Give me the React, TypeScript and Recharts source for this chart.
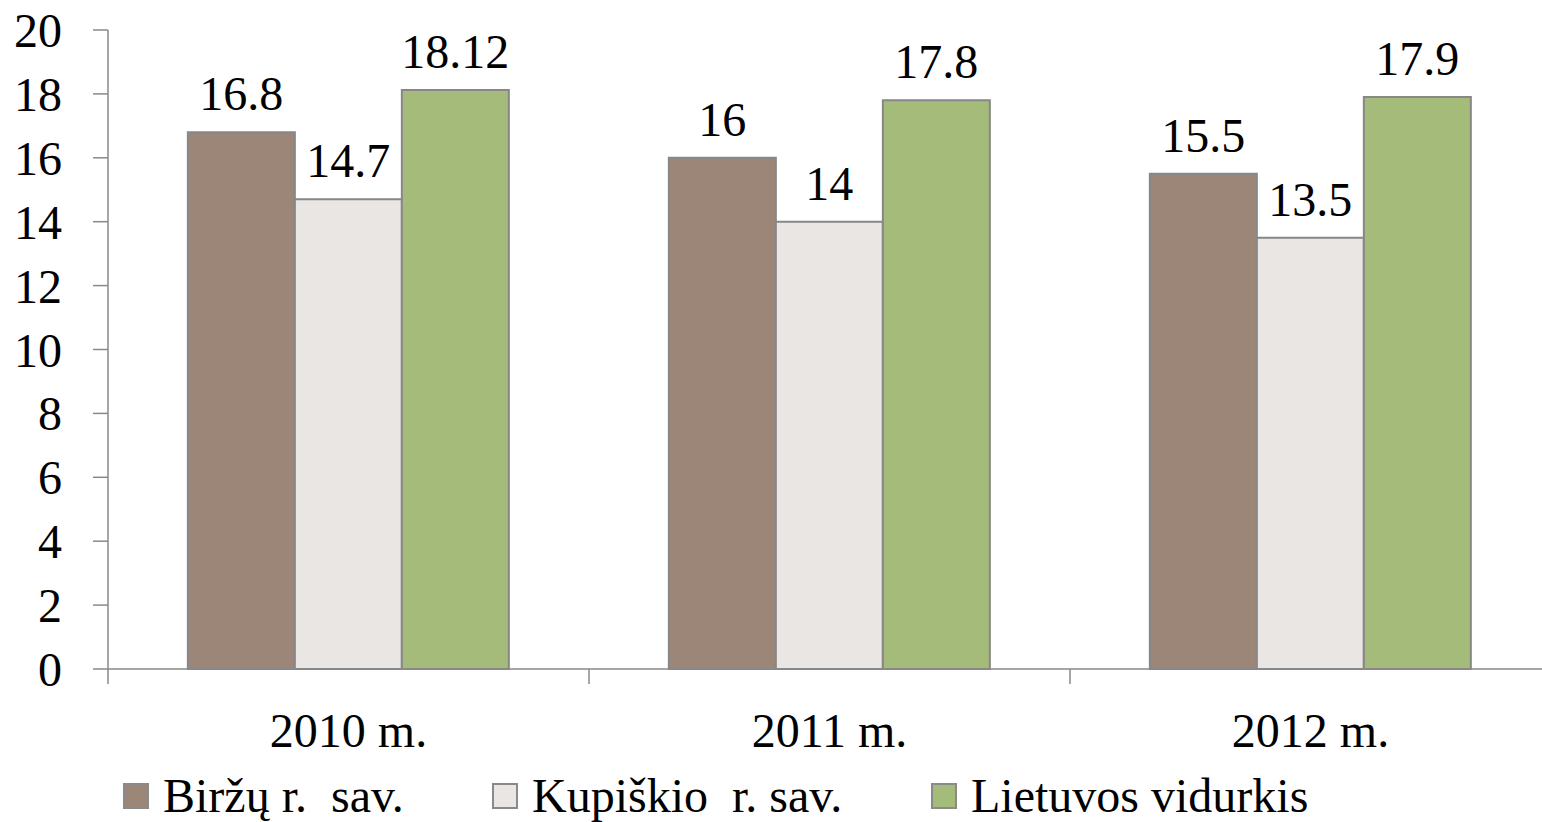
import React from 'react';
import { BarChart, Bar, XAxis, YAxis, Legend, LabelList } from 'recharts';

const categories = ['2010 m.', '2011 m.', '2012 m.'];
const birzai = [16.8, 16, 15.5];
const kupiskis = [14.7, 14, 13.5];
const lietuva = [18.12, 17.8, 17.9];
const yTicks = [0, 2, 4, 6, 8, 10, 12, 14, 16, 18, 20];

const series = [
  { key: 'birzai', name: 'Biržų r.  sav.', color: '#9B8677' },
  { key: 'kupiskis', name: 'Kupiškio  r. sav.', color: '#EAE6E3' },
  { key: 'lietuva', name: 'Lietuvos vidurkis', color: '#A4BB7A' },
];

const data = categories.map((name, i) => ({
  name,
  birzai: birzai[i],
  kupiskis: kupiskis[i],
  lietuva: lietuva[i],
}));

const FONT = "'Liberation Serif', 'Times New Roman', serif";
const FS = 48;
const AXIS = '#898989';
const CHART_W = 1551;
const CHART_H = 822;
const Y_AXIS_W = 108;
const BAND = (CHART_W - Y_AXIS_W) / categories.length;
const LEGEND_ITEM_W = [369, 439, undefined];

const XTick = (props: any) => {
  const { x, y, payload, index } = props;
  const half = typeof payload?.offset === 'number' && payload.offset > 0 ? payload.offset : BAND / 2;
  const last = index === categories.length - 1;
  return (
    <g>
      <line x1={x - half} y1={y} x2={x - half} y2={y + 15} stroke={AXIS} strokeWidth={1.5} />
      {last && <line x1={x + half} y1={y} x2={x + half} y2={y + 15} stroke={AXIS} strokeWidth={1.5} />}
      <text x={x} y={y + 78} textAnchor="middle" fontFamily={FONT} fontSize={FS} fill="#000">
        {payload.value}
      </text>
    </g>
  );
};

const LegendContent = () => (
  <div
    style={{
      display: 'flex',
      alignItems: 'center',
      height: 52,
      paddingLeft: 123,
      fontFamily: FONT,
      fontSize: FS,
      color: '#000',
    }}
  >
    {series.map((s, i) => (
      <div key={s.key} style={{ display: 'flex', alignItems: 'center', width: LEGEND_ITEM_W[i] }}>
        <span
          style={{
            display: 'inline-block',
            width: 22,
            height: 22,
            background: s.color,
            border: '2px solid #8a8a8a',
          }}
        />
        <span style={{ marginLeft: 14, whiteSpace: 'pre', lineHeight: '52px' }}>{s.name}</span>
      </div>
    ))}
  </div>
);

export default function App() {
  return (
    <div style={{ position: 'absolute', left: 0, top: 0, width: 1542, height: 822, overflow: 'hidden', background: '#fff' }}>
      <BarChart
        width={CHART_W}
        height={CHART_H}
        data={data}
        margin={{ top: 30, right: 0, bottom: 0, left: 0 }}
        barCategoryGap="16.6%"
        barGap={0}
      >
        <XAxis
          dataKey="name"
          height={101}
          tickLine={false}
          tickSize={0}
          tickMargin={0}
          axisLine={{ stroke: AXIS, strokeWidth: 1.5 }}
          tick={<XTick />}
          interval={0}
        />
        <YAxis
          width={Y_AXIS_W}
          domain={[0, 20]}
          ticks={yTicks}
          interval={0}
          tickSize={15}
          tickMargin={31}
          axisLine={{ stroke: AXIS, strokeWidth: 1.5 }}
          tickLine={{ stroke: AXIS, strokeWidth: 1.5 }}
          tick={{ fontFamily: FONT, fontSize: FS, fill: '#000' }}
        />
        <Legend
          verticalAlign="bottom"
          content={<LegendContent />}
          wrapperStyle={{ left: 0, bottom: 0, width: 1542, height: 52 }}
        />
        {series.map((s) => (
          <Bar
            key={s.key}
            dataKey={s.key}
            name={s.name}
            fill={s.color}
            stroke="#878787"
            strokeWidth={2}
            isAnimationActive={false}
          >
            <LabelList
              dataKey={s.key}
              position="top"
              offset={22}
              fontFamily={FONT}
              fontSize={FS}
              fill="#000"
            />
          </Bar>
        ))}
      </BarChart>
    </div>
  );
}
